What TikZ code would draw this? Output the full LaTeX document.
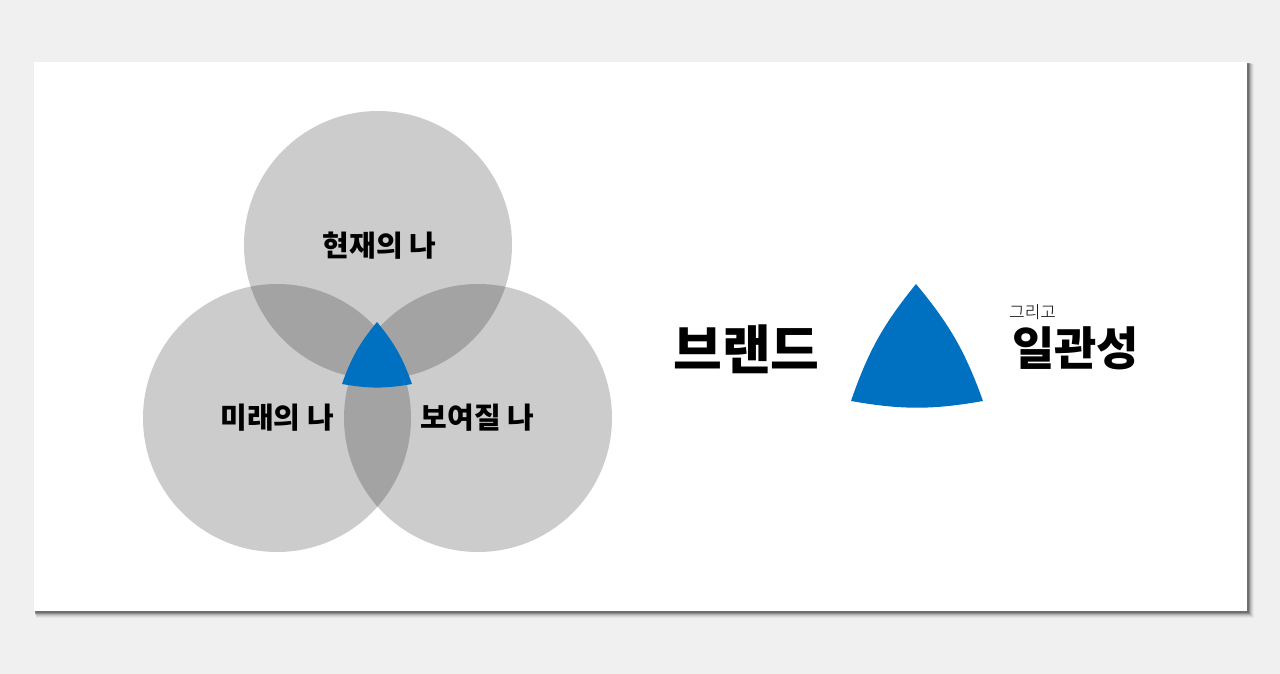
\documentclass[tikz,border=0pt]{standalone}
\usepackage{fontspec}
\newfontfamily\krblack{Noto Sans CJK KR Black}
\newfontfamily\krlight{Noto Sans CJK KR Light}
\definecolor{bg}{HTML}{F0F0F0}
\definecolor{brandblue}{HTML}{0070C0}
\tikzset{
  venn/.style={fill=black, fill opacity=0.2},
  lbl/.style={font=\krblack\fontsize{29}{29}\selectfont, inner sep=0pt},
  small/.style={font=\krlight\fontsize{17}{17}\selectfont, inner sep=0pt},
}
\begin{document}
\begin{tikzpicture}[x=1pt,y=-1pt]
\useasboundingbox (0,0) rectangle (1280,674);
\fill[bg] (0,0) rectangle (1280,674);
% card shadow
\foreach \o/\c in {7/0.04,6/0.06,5/0.08,4/0.12,3/0.18,2/0.22}{
  \fill[black, opacity=\c] (34+\o*0.3,62+\o*0.3) rectangle (1247+\o,611+\o);
}
\fill[white] (34,62) rectangle (1247,611);
% circles
\coordinate (ct) at (378,245);
\coordinate (cl) at (277,418);
\coordinate (cr) at (478,418);
\fill[venn] (ct) circle[radius=134];
\fill[venn] (cl) circle[radius=134];
\fill[venn] (cr) circle[radius=134];
% small blue triangle
\coordinate (sa) at (377,322);
\coordinate (sb) at (342,384);
\coordinate (sc) at (412,384);
\fill[brandblue] (sa) to[bend right=10] (sb) to[bend right=10] (sc) to[bend right=10] cycle;
% labels
\node[lbl] (now) at (379.5,246) {현재의 나};
\node[lbl] (future) at (277,418) {미래의 나};
\node[lbl] (seen) at (477.5,418) {보여질 나};
% big triangle
\coordinate (ba) at (916,284);
\coordinate (bb) at (851,401);
\coordinate (bc) at (983,401);
\fill[brandblue] (ba) to[bend right=10] (bb) to[bend right=10] (bc) to[bend right=10] cycle;
\node[font=\krblack\fontsize{53}{53}\selectfont, inner sep=0pt] (brand) at (746.5,349) {브랜드};
\node[font=\krblack\fontsize{46}{46}\selectfont, inner sep=0pt] (cons) at (1075.5,348) {일관성};
\node[small, anchor=west] (and) at (1009,312.5) {그리고};
\end{tikzpicture}
\end{document}
